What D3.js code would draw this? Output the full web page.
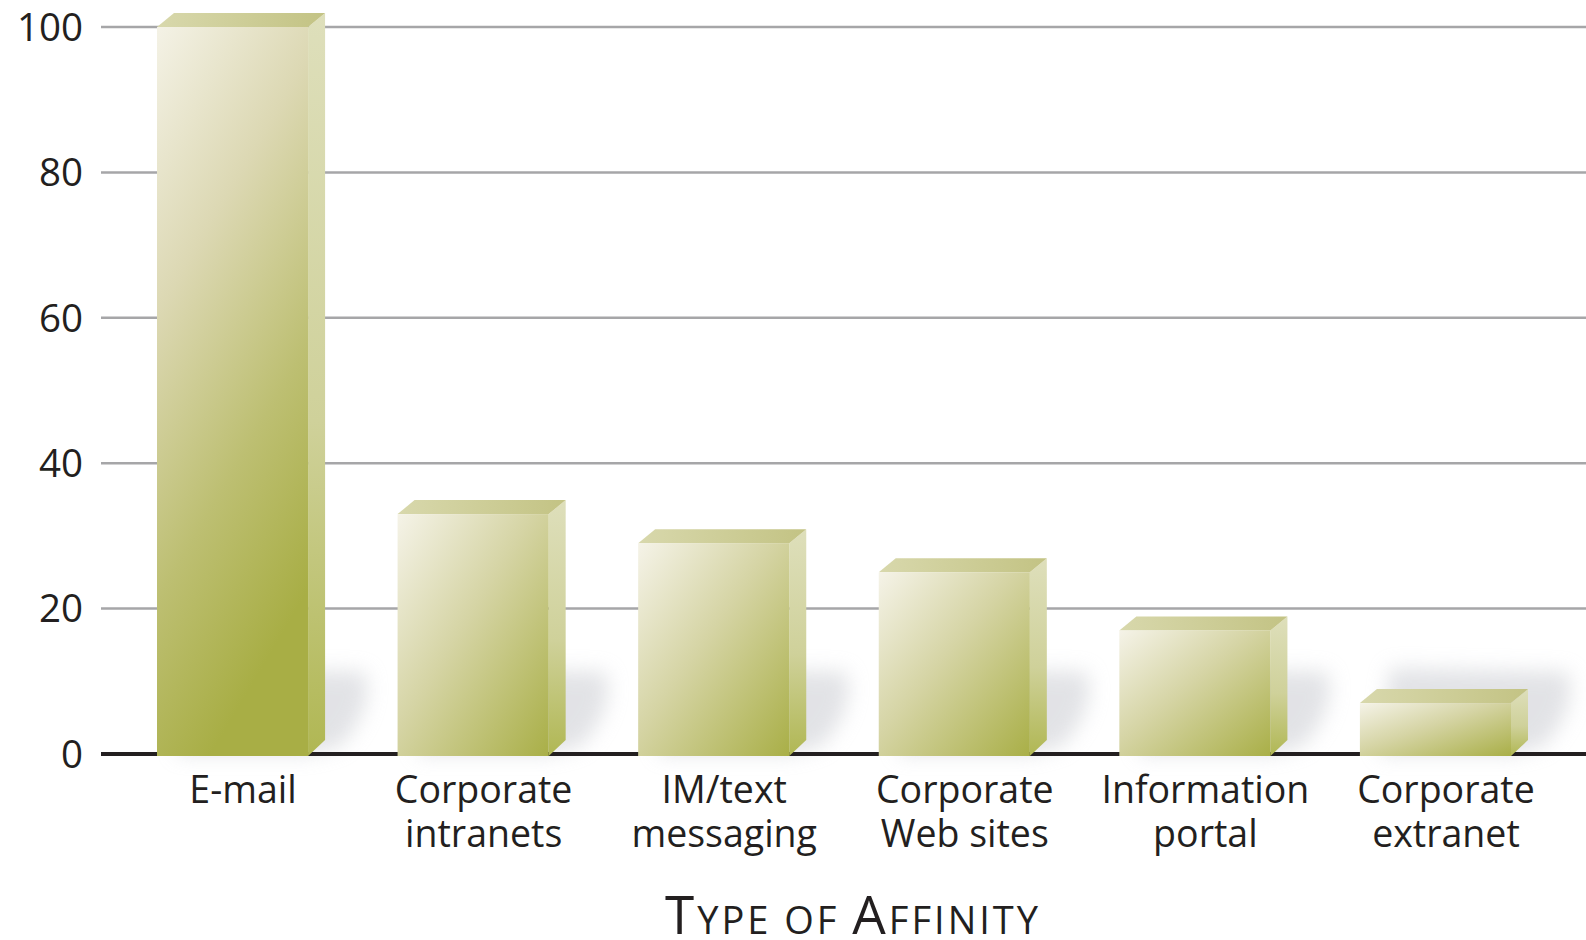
<!DOCTYPE html>
<html>
<head>
<meta charset="utf-8">
<script src="https://cdn.jsdelivr.net/npm/d3@7/dist/d3.min.js"></script>
<style>
  html, body { margin: 0; padding: 0; background: #ffffff; }
  svg { display: block; }
  text { font-family: "Open Sans", "Noto Sans", sans-serif; fill: #231f20; }
</style>
</head>
<body>
<svg id="chart" width="1586" height="940"></svg>
<script>
// ---- data ----
const categories = [
  ["E-mail"],
  ["Corporate", "intranets"],
  ["IM/text", "messaging"],
  ["Corporate", "Web sites"],
  ["Information", "portal"],
  ["Corporate", "extranet"]
];
const values = [100, 33, 29, 25, 17, 7];
const yTicks = [0, 20, 40, 60, 80, 100];
const axisTitle = [["T", "big"], ["YPE OF ", "small"], ["A", "big"], ["FFINITY", "small"]];

const W = 1586, H = 940;
const svg = d3.select("#chart");

const keys = categories.map(c => c.join(" "));
const x = d3.scaleBand().domain(keys).range([157, 1511]).paddingInner(0.372).paddingOuter(0);
const y = d3.scaleLinear().domain([0, 100]).range([754, 27]);

const DX = 17, DY = 14;
const defs = svg.append("defs");

const gFront = defs.append("linearGradient").attr("id", "front")
  .attr("x1", 0).attr("y1", 0).attr("x2", 1).attr("y2", 1);
gFront.append("stop").attr("offset", "0%").attr("stop-color", "#f5f3e8");
gFront.append("stop").attr("offset", "45%").attr("stop-color", "#d5d4a4");
gFront.append("stop").attr("offset", "100%").attr("stop-color", "#a9af47");

const gFrontTall = defs.append("linearGradient").attr("id", "frontTall")
  .attr("x1", 0).attr("y1", 0).attr("x2", 0.35).attr("y2", 1);
gFrontTall.append("stop").attr("offset", "0%").attr("stop-color", "#f4f2e6");
gFrontTall.append("stop").attr("offset", "35%").attr("stop-color", "#dcd8b3");
gFrontTall.append("stop").attr("offset", "70%").attr("stop-color", "#bdbf72");
gFrontTall.append("stop").attr("offset", "100%").attr("stop-color", "#a8ae45");

const gTop = defs.append("linearGradient").attr("id", "topface")
  .attr("x1", 0).attr("y1", 0).attr("x2", 1).attr("y2", 0);
gTop.append("stop").attr("offset", "0%").attr("stop-color", "#d8d8ac");
gTop.append("stop").attr("offset", "100%").attr("stop-color", "#c3c384");

const gSide = defs.append("linearGradient").attr("id", "side")
  .attr("x1", 0).attr("y1", 0).attr("x2", 0).attr("y2", 1);
gSide.append("stop").attr("offset", "0%").attr("stop-color", "#dedfbb");
gSide.append("stop").attr("offset", "55%").attr("stop-color", "#cfd19a");
gSide.append("stop").attr("offset", "100%").attr("stop-color", "#b0b753");

const blur = defs.append("filter").attr("id", "blur")
  .attr("x", "-50%").attr("y", "-50%").attr("width", "200%").attr("height", "200%");
blur.append("feGaussianBlur").attr("stdDeviation", 10);

// ---- gridlines ----
svg.append("g").selectAll("line").data(yTicks.filter(t => t !== 0)).join("line")
  .attr("x1", 101).attr("x2", W)
  .attr("y1", d => y(d)).attr("y2", d => y(d))
  .attr("stroke", "#a6a6a8").attr("stroke-width", 2.5);

// ---- shadows ----
const shadowTop = 668;
svg.append("g").selectAll("path").data(values).join("path")
  .attr("d", (d, i) => {
    const xl = x(keys[i]), xr = xl + x.bandwidth();
    const yb = y(0);
    return `M${xl + 30},${shadowTop} L${xr + DX + 40},${shadowTop + 4} Q${xr + DX + 50},${shadowTop + 40} ${xr + DX + 15},${yb - 8} L${xr},${yb} L${xl + 20},${yb} Z`;
  })
  .attr("fill", "#cfd0d6").attr("opacity", 0.6).attr("filter", "url(#blur)");

// ---- baseline ----
svg.append("line").attr("x1", 101).attr("x2", W)
  .attr("y1", y(0)).attr("y2", y(0))
  .attr("stroke", "#231f20").attr("stroke-width", 4);

// ---- bars ----
const bars = svg.append("g").selectAll("g").data(values).join("g");
const yb = y(0) + 2;
bars.append("path").attr("fill", "url(#side)")
  .attr("d", (d, i) => {
    const xr = x(keys[i]) + x.bandwidth(), yt = y(d);
    return `M${xr},${yt} L${xr + DX},${yt - DY} L${xr + DX},${yb - DY - 2} L${xr},${yb} Z`;
  });
bars.append("path").attr("fill", "url(#topface)")
  .attr("d", (d, i) => {
    const xl = x(keys[i]), xr = xl + x.bandwidth(), yt = y(d);
    return `M${xl},${yt} L${xl + DX},${yt - DY} L${xr + DX},${yt - DY} L${xr},${yt} Z`;
  });
bars.append("rect")
  .attr("x", (d, i) => x(keys[i]))
  .attr("y", d => y(d))
  .attr("width", x.bandwidth())
  .attr("height", d => yb - y(d))
  .attr("fill", d => d > 60 ? "url(#frontTall)" : "url(#front)");

// ---- y tick labels ----
svg.append("g").selectAll("text").data(yTicks).join("text")
  .attr("x", 83).attr("y", d => y(d))
  .attr("dy", "0.36em")
  .attr("text-anchor", "end")
  .attr("font-size", 38.5)
  .text(d => d);

// ---- category labels ----
const labels = svg.append("g").selectAll("text").data(categories).join("text")
  .attr("text-anchor", "middle")
  .attr("font-size", 37.5)
  .attr("transform", (d, i) => `translate(${x(keys[i]) + x.bandwidth() / 2 + DX / 2 + 2},803)`);
labels.selectAll("tspan").data(d => d).join("tspan")
  .attr("x", 0).attr("y", (d, j) => j * 44)
  .text(d => d);

// ---- axis title ----
const title = svg.append("text").attr("x", 853).attr("y", 934)
  .attr("text-anchor", "middle").attr("letter-spacing", 3);
title.selectAll("tspan").data(axisTitle).join("tspan")
  .attr("font-size", d => d[1] === "big" ? 53 : 38)
  .text(d => d[0]);
</script>
</body>
</html>
